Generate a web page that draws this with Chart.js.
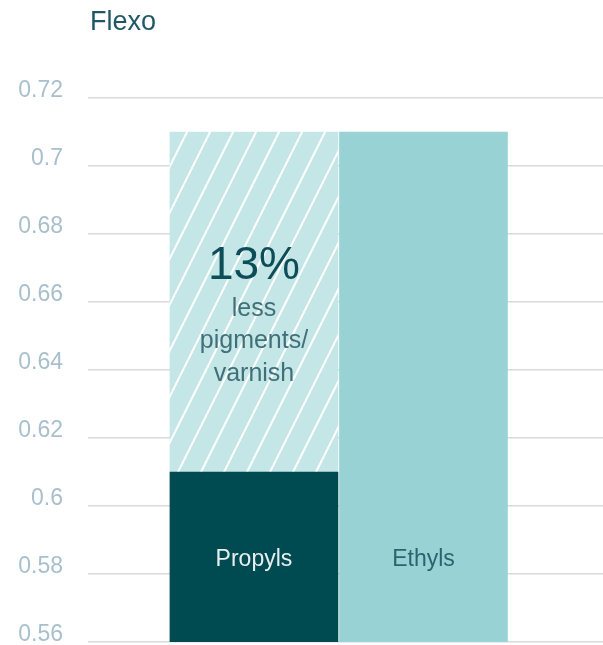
<!DOCTYPE html>
<html>
<head>
<meta charset="utf-8">
<script src="https://cdn.jsdelivr.net/npm/chart.js@4/dist/chart.umd.min.js"></script>
<style>
  body { margin: 0; background: #fff; }
  #wrap { width: 603px; height: 645px; position: relative; }
</style>
</head>
<body>
<div id="wrap"><canvas id="flexoChart"></canvas></div>
<script>
const categories = ['Propyls', 'Ethyls'];
const barValues = [0.61, 0.71];
const savingRange = [0.61, 0.71];
const yTicks = { min: 0.56, max: 0.72, step: 0.02 };
const savingText = ['13%', 'less', 'pigments/', 'varnish'];
const chartTitle = 'Flexo';

const barColors = ['#004a51', '#98d2d4'];
const labelColors = ['#e6f0f0', '#2b6470'];
const FONT = '"Liberation Sans", Arial, sans-serif';

// striped fill for the saved part
function makeStripes() {
    const w = 23, h = 46;
    const c = document.createElement('canvas');
    c.width = w; c.height = h;
    const g = c.getContext('2d');
    g.fillStyle = '#c5e6e7';
    g.fillRect(0, 0, w, h);
    g.strokeStyle = '#ffffff';
    g.lineWidth = 2;
    for (let k = -1; k <= 1; k++) {
        g.beginPath();
        g.moveTo(k * w, h);
        g.lineTo(k * w + w, 0);
        g.stroke();
    }
    return document.getElementById('flexoChart').getContext('2d').createPattern(c, 'repeat');
}

const labelsPlugin = {
    id: 'labels',
    afterDatasetsDraw(chart) {
        const ctx = chart.ctx;
        const xs = chart.scales.x, ys = chart.scales.y;
        ctx.save();
        ctx.textAlign = 'left';
        ctx.textBaseline = 'alphabetic';
        ctx.fillStyle = '#1d5864';
        ctx.font = '27px ' + FONT;
        ctx.fillText(chartTitle, chart.chartArea.left + 2, 30);

        ctx.textAlign = 'center';
        ctx.textBaseline = 'middle';
        const labelY = ys.getPixelForValue((yTicks.min + barValues[0]) / 2);
        ctx.font = '23px ' + FONT;
        for (let i = 0; i < categories.length; i++) {
            ctx.fillStyle = labelColors[i];
            ctx.fillText(categories[i], xs.getPixelForValue(i + 1), labelY + 3);
        }

        const sx = xs.getPixelForValue(1);
        const midY = ys.getPixelForValue((savingRange[0] + savingRange[1]) / 2);
        ctx.fillStyle = '#0d4d58';
        ctx.font = '46px ' + FONT;
        ctx.fillText(savingText[0], sx, midY - 36);
        ctx.fillStyle = '#3f7079';
        ctx.font = '25px ' + FONT;
        for (let i = 1; i < savingText.length; i++) {
            ctx.fillText(savingText[i], sx, midY + 7 + (i - 1) * 32.5);
        }
        ctx.restore();
    }
};

new Chart(document.getElementById('flexoChart'), {
    type: 'bar',
    data: {
        datasets: [{
            label: 'Total',
            data: categories.map((c, i) => ({ x: i + 1, y: barValues[i] })),
            backgroundColor: barColors,
            barThickness: 168
        }, {
            label: 'Saving',
            data: [{ x: 1, y: savingRange }],
            backgroundColor: makeStripes(),
            barThickness: 168
        }]
    },
    options: {
        responsive: true,
        maintainAspectRatio: false,
        animation: false,
        layout: { padding: { top: 98, bottom: 3, left: 0, right: 0 } },
        plugins: {
            legend: { display: false },
            tooltip: { enabled: false }
        },
        scales: {
            x: {
                type: 'linear',
                stacked: true,
                offset: false,
                min: 0.021,
                max: 3.059,
                display: false
            },
            y: {
                min: yTicks.min,
                max: yTicks.max,
                border: { display: false },
                grid: { color: '#dadada', lineWidth: 1.5, drawTicks: false },
                ticks: {
                    stepSize: yTicks.step,
                    padding: 25,
                    labelOffset: -7,
                    color: '#a8bfcc',
                    font: { family: FONT, size: 23 },
                    callback: v => String(+v.toFixed(2))
                },
                afterFit(scale) {
                    scale.width = 88;
                    scale.paddingTop = 0;
                    scale.paddingBottom = 0;
                }
            }
        }
    },
    plugins: [labelsPlugin]
});
</script>
</body>
</html>
